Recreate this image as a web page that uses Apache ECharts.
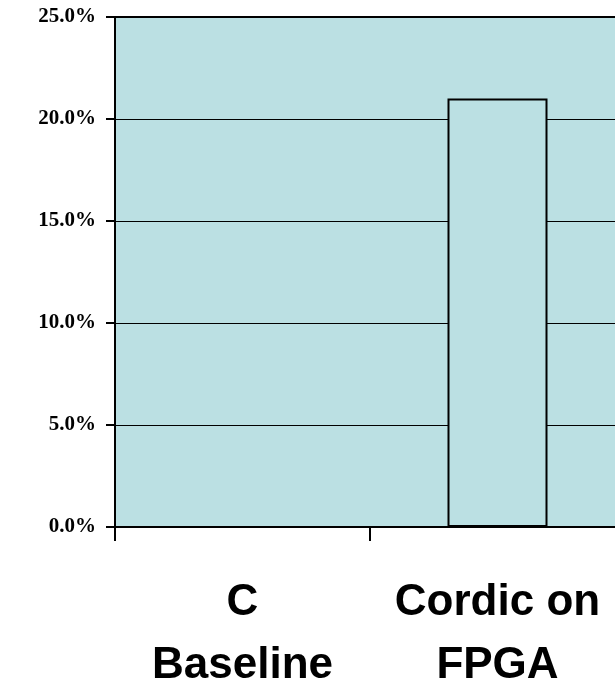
<!DOCTYPE html>
<html>
<head>
<meta charset="utf-8">
<script src="https://cdn.jsdelivr.net/npm/echarts@6/dist/echarts.min.js"></script>
<style>
html,body{margin:0;padding:0;background:#fff;}
#chart{width:615px;height:691px;}
</style>
</head>
<body>
<div id="chart"></div>
<script>
const categories = ['C\nBaseline', 'Cordic on\nFPGA'];
const values = [0, 21.0];
const yTicks = [0, 5, 10, 15, 20, 25];

const chart = echarts.init(document.getElementById('chart'), null, {renderer: 'canvas'});
chart.setOption({
  animation: false,
  backgroundColor: '#ffffff',
  grid: {
    left: 115, width: 510, top: 17, height: 510,
    outerBoundsMode: 'none', containLabel: false,
    show: true, backgroundColor: '#BBE0E3', borderColor: '#000', borderWidth: 2
  },
  xAxis: {
    type: 'category',
    data: categories,
    boundaryGap: true,
    axisLine: {lineStyle: {color: '#000', width: 2}},
    axisTick: {show: true, length: 14, lineStyle: {color: '#000', width: 2}},
    axisLabel: {
      color: '#000', fontFamily: 'Liberation Sans', fontWeight: 'bold',
      fontSize: 44, lineHeight: 63, margin: 44, interval: 0
    }
  },
  yAxis: {
    type: 'value',
    min: yTicks[0], max: yTicks[yTicks.length - 1], interval: 5,
    axisLine: {show: true, lineStyle: {color: '#000', width: 2}},
    axisTick: {show: true, length: 9, lineStyle: {color: '#000', width: 2}},
    splitLine: {show: true, lineStyle: {color: '#000', width: 1}},
    axisLabel: {
      color: '#000', fontFamily: 'Liberation Serif', fontWeight: 'bold',
      fontSize: 21, margin: 19,
      formatter: v => v.toFixed(1) + '%'
    }
  },
  series: [{
    type: 'bar',
    data: values,
    barWidth: 100,
    itemStyle: {color: '#BBE0E3', borderColor: '#000', borderWidth: 2}
  }]
});
</script>
</body>
</html>
